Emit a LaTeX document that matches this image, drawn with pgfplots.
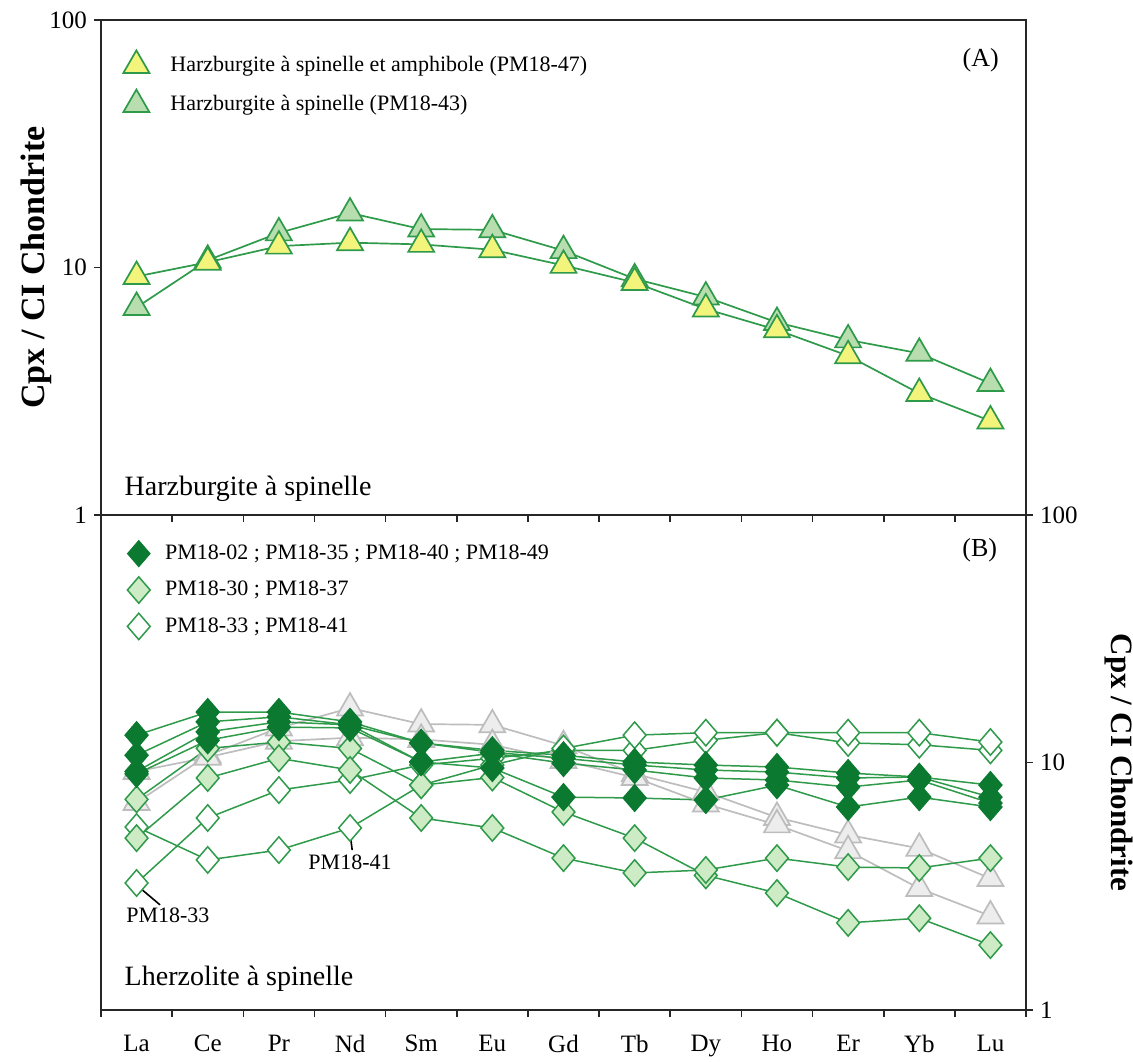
\documentclass[border=0pt]{standalone}
\usepackage{pgfplots}
\usepackage{pgfplotstable}
\pgfplotsset{compat=1.18}
\usepackage{fontspec}
\setmainfont{Liberation Serif}

\definecolor{lgreen}{HTML}{2E9A4A}
\definecolor{dgreen}{HTML}{0B7A30}
\definecolor{pgreen}{HTML}{CDEBC5}
\definecolor{tgreen}{HTML}{B8DEB0}
\definecolor{yfill}{HTML}{F2F47C}
\definecolor{gfill}{HTML}{EDEDED}
\definecolor{gedge}{HTML}{BDBDBD}

% REE / CI chondrite, x = La ... Lu
\pgfplotstableread{
x  D1    D2    D3    D4    LA    LB    O33   O41   H47   H43
0  12.9  10.7  9.2   9.0   7.1   4.95  3.26  5.49  9.2   6.9
1  16.0  14.6  13.3  12.3  11.4  8.66  5.97  4.04  10.5  10.7
2  16.0  15.3  14.6  13.9  12.1  10.4  7.74  4.43  12.2  13.8
3  14.6  14.2  14.2  13.8  11.4  9.33  8.5   5.44  12.6  16.6
4  12.0  12.0  10.05 10.05 8.1   5.97  9.77  8.1   12.4  14.3
5  11.2  11.0  10.9  9.5   8.7   5.44  10.4  9.77  11.8  14.2
6  10.7  10.4  9.95  7.25  6.31  4.11  11.2  11.4  10.2  11.7
7  10.05 9.77  9.33  7.19  4.95  3.58  11.2  12.9  8.7   9.0
8  9.77  9.33  8.66  7.06  3.5   3.68  12.3  13.2  6.8   7.6
9  9.59  9.15  8.5   8.1   2.97  4.11  13.2  13.2  5.6   6.0
10 9.07  8.66  7.96  6.61  2.25  3.78  12.0  13.2  4.4   5.1
11 8.74  8.74  8.5   7.25  2.35  3.75  11.8  13.2  3.1   4.5
12 8.11  7.25  6.86  6.61  1.83  4.11  11.2  12.1  2.4   3.4
}\reedata

\tikzset{
  reetri/.style={color=lgreen, line width=0.85pt, mark=triangle*, mark size=7.5pt},
  reedia/.style={color=lgreen, line width=0.75pt, mark=diamond*, mark size=6.6pt},
  reedk/.style={reedia, mark options={fill=dgreen, draw=dgreen, xscale=1.15}},
  reelt/.style={reedia, mark options={fill=pgreen, draw=lgreen, xscale=1.15}},
  reeop/.style={reedia, mark options={fill=white, draw=lgreen, xscale=1.15}},
  reegr/.style={color=gedge, line width=0.85pt, mark=triangle*, mark size=7.5pt,
    mark options={fill=gfill, draw=gedge}},
}

\begin{document}
\begin{tikzpicture}
\useasboundingbox (-50.5pt,10pt) rectangle (516pt,-520.5pt);

\begin{axis}[name=top, at={(0,0)}, anchor=north west,
    scale only axis, width=462.5pt, height=247.5pt,
    ymode=log, ymin=1, ymax=100, xmin=-0.5, xmax=12.5,
    xtick={-0.5,0.5,...,12.5}, xticklabels={},
    ytick={1,10,100}, yticklabels={1,10,100}, minor tick length=0pt,
    xtick pos=bottom, ytick pos=left, tick align=outside, major tick length=3.5pt,
    axis line style={black!85, line width=0.9pt},
    tick style={black!85, line width=0.8pt},
    yticklabel style={font=\fontsize{12.5}{15}\selectfont},
    ylabel={Cpx / CI Chondrite},
    ylabel style={font=\bfseries\fontsize{17}{20}\selectfont, anchor=center, at={(axis description cs:-0.07,0.5)}},
    legend cell align=left,
    legend style={draw=none, fill=none, font=\fontsize{11}{13}\selectfont,
      at={(0,1)}, anchor=north west, xshift=8pt, yshift=-13pt,
      row sep=5.5pt, column sep=8.5pt}]
\addlegendimage{only marks, mark=triangle*, mark size=7.5pt, mark options={fill=yfill, draw=lgreen, line width=0.85pt}}
\addlegendentry{Harzburgite à spinelle et amphibole (PM18-47)}
\addlegendimage{only marks, mark=triangle*, mark size=7.5pt, mark options={fill=tgreen, draw=lgreen, line width=0.85pt}}
\addlegendentry{Harzburgite à spinelle (PM18-43)}
\addplot[reetri, mark options={fill=tgreen}, forget plot] table[x=x, y=H43] {\reedata};
\addplot[reetri, mark options={fill=yfill}, forget plot] table[x=x, y=H47] {\reedata};
\node[font=\fontsize{13}{15}\selectfont] at (rel axis cs:0.951,0.919) {(A)};
\node[font=\fontsize{14}{16}\selectfont, anchor=base west] at (rel axis cs:0.018,0.04) {Harzburgite à spinelle};
\end{axis}

\begin{axis}[at={(top.south west)}, anchor=north west,
    scale only axis, width=462.5pt, height=247.5pt,
    ymode=log, ymin=1, ymax=100, xmin=-0.5, xmax=12.5,
    xtick={-0.5,0.5,...,12.5}, xticklabels={},
    ytick={1,10,100}, yticklabels={1,10,100}, minor tick length=0pt,
    xtick pos=bottom, ytick pos=right, yticklabel pos=right,
    tick align=outside, major tick length=3.5pt,
    axis line style={black!85, line width=0.9pt},
    tick style={black!85, line width=0.8pt},
    yticklabel style={font=\fontsize{12.5}{15}\selectfont},
    extra x ticks={0,...,12},
    extra x tick labels={La,Ce,Pr,Nd,Sm,Eu,Gd,Tb,Dy,Ho,Er,Yb,Lu},
    extra x tick style={major tick length=0pt, xticklabel style={font=\fontsize{12.5}{15}\selectfont, yshift=-9pt}},
    ylabel={Cpx  / CI Chondrite},
    ylabel style={font=\bfseries\fontsize{15.5}{18}\selectfont, anchor=center, rotate=180, at={(axis description cs:1.1,0.5)}},
    legend cell align=left,
    legend style={draw=none, fill=none, font=\fontsize{11}{13}\selectfont,
      at={(0,1)}, anchor=north west, xshift=10pt, yshift=-10.5pt,
      row sep=5pt, column sep=5.5pt}]
\addlegendimage{only marks, mark=diamond*, mark size=6.6pt, mark options={fill=dgreen, draw=dgreen, xscale=1.15}}
\addlegendentry{PM18-02 ; PM18-35 ; PM18-40 ; PM18-49}
\addlegendimage{only marks, mark=diamond*, mark size=6.6pt, mark options={fill=pgreen, draw=lgreen, line width=0.75pt, xscale=1.15}}
\addlegendentry{PM18-30 ; PM18-37}
\addlegendimage{only marks, mark=diamond*, mark size=6.6pt, mark options={fill=white, draw=lgreen, line width=0.75pt, xscale=1.15}}
\addlegendentry{PM18-33 ; PM18-41}
\addplot[reegr, forget plot] table[x=x, y=H43] {\reedata};
\addplot[reegr, forget plot] table[x=x, y=H47] {\reedata};
\addplot[reeop, forget plot] table[x=x, y=O33] {\reedata};
\addplot[reeop, forget plot] table[x=x, y=O41] {\reedata};
\addplot[reelt, forget plot] table[x=x, y=LA] {\reedata};
\addplot[reelt, forget plot] table[x=x, y=LB] {\reedata};
\addplot[reedk, forget plot] table[x=x, y=D4] {\reedata};
\addplot[reedk, forget plot] table[x=x, y=D3] {\reedata};
\addplot[reedk, forget plot] table[x=x, y=D2] {\reedata};
\addplot[reedk, forget plot] table[x=x, y=D1] {\reedata};
\draw[black, line width=0.8pt] (axis cs:0.05,3.11) -- (axis cs:0.33,2.66);
\node[font=\fontsize{11}{13}\selectfont] at (axis cs:0.44,2.42) {PM18-33};
\draw[black, line width=0.8pt] (axis cs:3.0,5.19) -- (axis cs:3.03,4.43);
\node[font=\fontsize{11}{13}\selectfont] at (axis cs:3.0,3.96) {PM18-41};
\node[font=\fontsize{13}{15}\selectfont] at (rel axis cs:0.95,0.929) {(B)};
\node[font=\fontsize{14}{16}\selectfont, anchor=base west] at (rel axis cs:0.018,0.05) {Lherzolite à spinelle};
\end{axis}
\end{tikzpicture}
\end{document}
